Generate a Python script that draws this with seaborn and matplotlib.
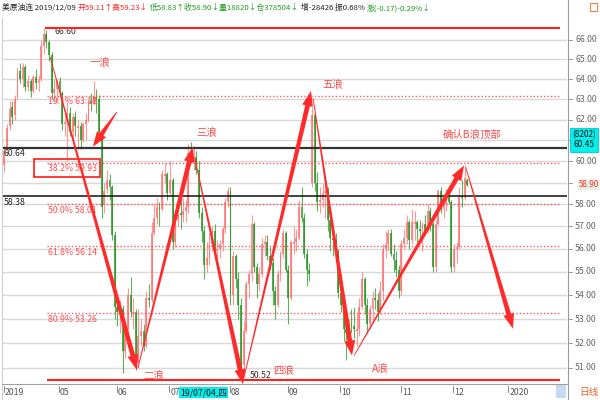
import numpy as np
import pandas as pd
import matplotlib
matplotlib.use("Agg")
import matplotlib.pyplot as plt
import seaborn as sns
from matplotlib.patches import Polygon, Rectangle
from matplotlib.transforms import IdentityTransform
from matplotlib.lines import Line2D

# ---------------- data ----------------
holidays = ['2019-04-19', '2019-05-27', '2019-09-02', '2019-11-28']
dates = pd.bdate_range('2019-04-01', '2019-12-09')
dates = dates[~dates.isin(pd.to_datetime(holidays))]

opens = [59.8, 60.6, 61.7, 62.6, 62.2, 63.1, 64.4, 64.0, 64.6, 63.6,
         63.9, 63.4, 64.1, 63.8, 64.0, 65.7, 66.3, 65.9, 65.2, 63.3,
         63.5, 63.9, 63.3, 61.8, 61.9, 62.3, 61.4, 62.1, 61.6, 61.7,
         61.0, 61.8, 62.0, 62.9, 62.8, 63.1, 63.0, 61.2, 58.0, 58.7,
         59.1, 58.8, 56.6, 53.5, 53.3, 53.4, 51.7, 52.6, 54.0, 53.2,
         53.3, 51.2, 52.3, 52.5, 51.9, 53.9, 53.8, 56.7, 57.4, 57.9,
         57.8, 59.3, 59.4, 58.5, 59.1, 56.3, 57.3, 57.6, 57.5, 57.7,
         57.9, 60.4, 60.1, 60.2, 59.6, 57.6, 56.8, 55.3, 55.6, 56.2,
         56.8, 55.9, 56.0, 56.2, 56.9, 58.1, 58.6, 54.0, 55.7, 54.7,
         53.6, 51.1, 52.5, 54.5, 54.9, 57.1, 55.2, 54.5, 54.9, 56.2,
         56.3, 55.7, 55.4, 54.2, 53.6, 54.9, 55.8, 56.7, 55.1, 53.9,
         56.2, 56.3, 56.5, 57.9, 57.4, 55.8, 55.1, 59.0, 62.2, 59.0,
         58.1, 58.2, 58.5, 58.6, 57.3, 56.5, 56.4, 55.9, 54.1, 53.6,
         52.6, 52.4, 52.8, 52.7, 52.5, 52.6, 53.5, 54.7, 53.6, 52.8,
         53.4, 53.9, 53.8, 53.3, 54.2, 56.0, 56.2, 56.7, 55.8, 55.5,
         55.1, 54.2, 56.2, 56.5, 57.2, 56.4, 57.1, 57.2, 56.9, 56.8,
         57.1, 56.8, 57.7, 57.1, 55.2, 57.1, 58.6, 57.8, 58.0, 58.4,
         58.1, 55.2, 56.0, 56.1, 58.4, 58.3, 59.11]
highs = [60.7, 61.8, 62.9, 62.9, 63.2, 64.6, 64.8, 64.8, 64.7, 64.2,
         64.0, 64.2, 64.5, 64.2, 66.0, 66.6, 66.5, 66.0, 65.4, 64.0,
         64.0, 64.1, 63.4, 62.3, 62.8, 62.6, 62.3, 62.4, 62.0, 61.9,
         61.9, 62.3, 63.0, 63.3, 63.9, 63.5, 63.2, 61.5, 59.0, 59.6,
         59.4, 58.9, 56.8, 54.0, 53.8, 53.6, 52.8, 54.3, 54.8, 53.9,
         53.4, 53.4, 53.0, 52.8, 54.2, 54.5, 57.2, 58.0, 58.3, 58.1,
         59.6, 59.9, 59.5, 60.0, 59.2, 57.6, 57.6, 58.3, 58.3, 58.2,
         60.8, 60.9, 60.7, 60.5, 60.0, 57.9, 57.0, 56.3, 56.7, 57.0,
         57.1, 56.4, 56.4, 57.0, 58.3, 58.8, 58.8, 55.9, 55.8, 55.0,
         53.9, 52.9, 54.6, 55.1, 57.5, 57.2, 55.4, 55.2, 56.5, 56.6,
         56.6, 56.1, 55.6, 54.4, 55.1, 55.9, 56.9, 56.8, 55.3, 56.4,
         57.0, 56.9, 58.2, 58.8, 57.6, 56.0, 55.4, 62.6, 62.3, 59.5,
         58.8, 59.0, 59.0, 58.8, 57.5, 56.9, 56.7, 56.0, 54.9, 53.8,
         52.9, 53.0, 53.4, 53.5, 53.2, 53.9, 55.0, 54.8, 53.9, 53.6,
         54.2, 54.3, 54.1, 54.6, 56.2, 56.8, 56.9, 56.9, 56.2, 55.9,
         55.3, 56.4, 56.9, 57.5, 57.3, 57.8, 57.7, 57.3, 57.3, 57.2,
         57.5, 58.0, 57.9, 57.2, 57.3, 58.7, 58.8, 58.4, 58.7, 58.8,
         58.2, 56.2, 56.3, 58.8, 59.1, 59.8, 59.23]
lows = [59.5, 60.5, 61.5, 61.8, 62.0, 63.0, 63.8, 63.6, 63.4, 63.4,
        63.1, 63.3, 63.5, 63.4, 63.9, 65.3, 65.6, 64.9, 63.0, 62.9,
        62.8, 63.1, 61.5, 61.2, 60.0, 61.2, 61.0, 61.2, 60.6, 60.6,
        60.9, 61.0, 61.9, 62.4, 62.7, 62.3, 61.1, 57.4, 57.6, 58.5,
        58.2, 56.4, 53.0, 52.7, 52.4, 50.8, 51.4, 52.5, 53.1, 52.6,
        50.9, 51.0, 51.9, 51.7, 51.8, 53.5, 53.7, 56.6, 57.1, 57.0,
        57.7, 59.0, 58.2, 58.4, 56.0, 56.1, 57.0, 56.9, 57.2, 57.2,
        57.6, 59.9, 59.6, 59.4, 57.4, 56.3, 54.7, 55.0, 55.3, 55.9,
        55.6, 55.5, 55.6, 55.9, 56.7, 57.9, 53.6, 53.6, 54.3, 53.0,
        50.52, 50.8, 52.4, 53.9, 54.6, 55.0, 53.9, 54.2, 54.8, 55.7,
        55.5, 55.1, 53.6, 53.0, 53.5, 54.6, 55.6, 55.0, 52.8, 53.8,
        55.8, 55.9, 56.4, 57.2, 55.6, 54.4, 54.6, 58.8, 58.6, 57.7,
        57.6, 57.9, 57.4, 56.8, 55.9, 55.7, 55.5, 53.9, 53.3, 52.1,
        51.3, 52.0, 52.4, 52.2, 51.9, 52.3, 53.4, 53.2, 52.4, 52.6,
        53.0, 53.4, 52.9, 53.2, 53.8, 55.6, 55.9, 55.7, 55.0, 54.8,
        53.9, 54.0, 56.0, 56.2, 56.0, 56.2, 56.4, 56.3, 56.5, 55.9,
        56.6, 56.7, 56.8, 55.0, 55.0, 57.0, 57.6, 57.4, 57.7, 58.0,
        55.0, 55.0, 55.4, 56.0, 57.9, 58.2, 58.83]
closes = [60.5, 61.6, 62.5, 62.1, 63.0, 64.4, 64.0, 64.6, 63.6, 63.9,
          63.4, 64.1, 63.8, 64.0, 65.7, 66.3, 65.9, 65.2, 63.3, 63.5,
          63.9, 63.3, 61.8, 61.9, 62.3, 61.4, 62.1, 61.7, 61.7, 61.0,
          61.8, 62.0, 62.9, 62.8, 63.1, 63.0, 61.4, 57.9, 58.6, 59.1,
          58.8, 56.6, 53.5, 53.3, 53.5, 51.7, 52.6, 54.0, 53.3, 53.3,
          51.1, 52.3, 52.5, 51.9, 53.9, 53.8, 56.7, 57.4, 57.9, 57.8,
          59.4, 59.4, 58.5, 59.1, 56.3, 57.3, 57.5, 57.5, 57.7, 57.9,
          60.4, 60.2, 60.2, 59.6, 57.6, 56.8, 55.3, 55.6, 56.2, 56.8,
          55.9, 56.0, 56.2, 56.9, 58.1, 58.6, 54.0, 55.7, 54.7, 53.6,
          51.1, 52.5, 54.5, 54.9, 57.1, 55.2, 54.5, 54.9, 56.2, 56.3,
          55.7, 55.4, 54.2, 53.6, 54.9, 55.8, 56.7, 55.1, 53.9, 56.3,
          56.3, 56.5, 57.9, 57.4, 55.8, 55.1, 54.9, 62.2, 59.0, 58.1,
          58.2, 58.5, 58.6, 57.3, 56.5, 56.4, 55.9, 54.1, 53.6, 52.6,
          52.4, 52.8, 52.7, 52.6, 52.6, 53.5, 54.7, 53.6, 52.8, 53.4,
          53.9, 53.8, 53.3, 54.2, 56.0, 56.2, 56.7, 55.8, 55.5, 55.1,
          54.2, 56.2, 56.5, 57.2, 56.4, 57.2, 57.2, 56.9, 56.8, 57.1,
          56.8, 57.7, 57.1, 55.2, 57.1, 58.6, 57.8, 58.0, 58.4, 58.1,
          55.2, 56.0, 56.1, 58.4, 58.3, 59.2, 58.90]

grid_prices = [51, 52, 53, 54, 55, 56, 57, 58, 59, 60, 61, 62, 63, 64, 65, 66]
label_prices = [51, 52, 53, 54, 55, 56, 57, 58, 60, 62, 63, 64, 65, 66]
month_labels = ['2019', '05', '06', '07', '08', '09', '10', '11', '12', '2020']

wave_high, wave_low = 66.60, 50.52
fib_ratios = [0.191, 0.382, 0.500, 0.618, 0.809]
fib_levels = [63.18, 59.93, 58.01, 56.14, 53.26]
black_levels = [60.64, 58.38]
last_price = 58.90

# wave arrows: (start idx, start price, end idx, end price)
arrow_x0 = [42.8, 17.4, 50.8, 72.5, 91.1, 117.4, 133.0, 175.5]
arrow_p0 = [62.37, 65.13, 51.0, 60.13, 50.6, 63.05, 51.5, 59.7]
arrow_x1 = [33.7, 50.4, 71.7, 90.8, 116.6, 132.2, 174.8, 193.4]
arrow_p1 = [60.69, 50.92, 60.67, 50.35, 63.4, 51.5, 59.8, 52.6]

wave_names = ['一浪', '二浪', '三浪', '四浪', '五浪', 'A浪', '确认B浪顶部']
wave_name_px = [(90, 62), (143, 375), (196, 132), (273, 370), (322, 84), (372, 368), (443, 135)]

# ---------------- style ----------------
sns.set_theme(style="white")
plt.rcParams['font.family'] = ['Noto Sans CJK SC', 'DejaVu Sans']
plt.rcParams['axes.unicode_minus'] = False

W, H = 600, 400
fig = plt.figure(figsize=(6, 4), dpi=100)
fig.patch.set_facecolor('white')

ax_left, ax_right, ax_top, ax_bot = 2, 567, 18, 384
ax = fig.add_axes([ax_left / W, 1 - ax_bot / H, (ax_right - ax_left) / W, (ax_bot - ax_top) / H])
ax.set_facecolor('white')
for s in ax.spines.values():
    s.set_visible(False)
ax.set_yscale('log')
ax.set_xlim(-0.88, 213.95)
ax.set_ylim(50.36, 67.15)
ax.set_xticks([])
ax.set_yticks([])
ax.yaxis.set_minor_locator(matplotlib.ticker.NullLocator())

def fx(x):
    return x / W

def fy(y):
    return 1 - y / H

# grid lines
for p in grid_prices:
    ax.axhline(p, color='#d9d9d9', lw=1.0, zorder=0)

# candles
idx = np.arange(len(dates))
o = np.array(opens); h = np.array(highs); l = np.array(lows); c = np.array(closes)
up = c >= o
up_col = '#ff7474'
dn_col = '#2a962a'
cols = np.where(up, up_col, dn_col)
ax.vlines(idx, l, h, colors=cols, lw=0.8, alpha=0.75, zorder=2)
bottoms = np.minimum(o, c)
heights = np.maximum(np.abs(c - o), 0.04)
ax.bar(idx, heights, bottom=bottoms, width=0.72, color=cols, alpha=0.8, linewidth=0, zorder=3)

# black support lines
ax.axhline(black_levels[0], color='#333333', lw=1.6, zorder=4)
ax.axhline(black_levels[1], color='#111111', lw=1.1, zorder=4)
for lv in black_levels:
    ax.annotate(f'{lv:.2f}', xy=(0, lv), xycoords=('axes fraction', 'data'),
                xytext=(1, -4.5), textcoords='offset points', fontsize=6.3, color='#222222', va='center')

# red extreme lines
ax.hlines([wave_high, wave_low], [15.5, 16.2], 211.3, colors='#ff2020', lw=1.5, zorder=4)
ax.annotate(f'{wave_high:.2f}', xy=(15.5, wave_high), xytext=(7, -2), textcoords='offset points',
            fontsize=6.3, color='#333333', va='center')
ax.annotate(f'{wave_low:.2f}', xy=(90, wave_low), xytext=(6, 3.5), textcoords='offset points',
            fontsize=6.3, color='#333333', va='center')

# fibonacci dotted lines
ax.hlines(fib_levels, 16.2, 211.3, colors='#ff5a5a', lw=1.0, linestyles=(0, (1, 1.5)), zorder=4)
for r, lv in zip(fib_ratios, fib_levels):
    ax.annotate(f'{r*100:.1f}% {lv:.2f}', xy=(16.2, lv), xytext=(0.5, -4.5), textcoords='offset points',
                fontsize=6.3, color='#ff5050', va='center')
# red box around 38.2%
fig.add_artist(Rectangle((fx(34), fy(177)), (100 - 34) / W, (177 - 159) / H, fill=False,
                         ec='#ff2a2a', lw=1.3, transform=fig.transFigure))

# wave labels
for name, (px, py) in zip(wave_names, wave_name_px):
    fig.text(fx(px), fy(py), name, fontsize=7.5, color='#ff4a4a', va='center', ha='left')

# right axis labels
ytr = ax.get_yaxis_transform()
for p in grid_prices:
    ax.plot([1.002, 1.009], [p, p], transform=ytr, color='#999999', lw=0.7, clip_on=False)
for p in label_prices:
    ax.text(1.0145, p, f'{p:.2f}', transform=ytr, fontsize=6.3, color='#666666', va='center', ha='left', clip_on=False)

# last price label
ax.text(1.021, last_price, f'{last_price:.2f}', transform=ytr, fontsize=5.8, color='#ff3030', va='center', ha='left',
        bbox=dict(boxstyle='round,pad=0.1', fc='#e2f2e2', ec='none'), clip_on=False, zorder=6)

# cyan value box
fig.add_artist(Rectangle((fx(570), fy(152)), 28 / W, 24 / H, fc='#00f0f0', ec='#00c8c8', lw=0.6,
                         transform=fig.transFigure, zorder=5))
fig.text(fx(584), fy(140), '(8202)\n60.45', fontsize=6.0, color='#111111', ha='center', va='center',
         linespacing=1.1, zorder=6)

# x axis month ticks
month_starts = [0]
for m in range(1, len(dates)):
    if dates[m].month != dates[m - 1].month:
        month_starts.append(m)
future = pd.bdate_range('2019-12-10', '2020-01-02')
future = future[~future.isin(pd.to_datetime(['2019-12-25', '2020-01-01']))]
month_starts.append(len(dates) + len(future) - 1)
xtr = ax.get_xaxis_transform()
for m, lab in zip(month_starts, month_labels):
    ax.plot([m - 0.3, m - 0.3], [-0.006, -0.022], transform=xtr, color='#888888', lw=0.7, clip_on=False)
    ax.text(m + 0.1, -0.024, lab, transform=xtr, fontsize=6.3, color='#555555', ha='left', va='center', clip_on=False)

# cursor date box
jul4 = int(np.where(dates == pd.Timestamp('2019-07-04'))[0][0])
ax.text(jul4 + 0.9, -0.024, '19/07/04,四', transform=xtr, fontsize=6.3, color='#111111', ha='left', va='center',
        bbox=dict(boxstyle='square,pad=0.12', fc='#00f0f0', ec='none'), clip_on=False, zorder=6)

# frame lines
fig.add_artist(Line2D([fx(568), fx(568)], [fy(0), fy(400)], color='#9a9a9a', lw=0.8, transform=fig.transFigure))
fig.add_artist(Line2D([fx(2), fx(2)], [fy(18), fy(400)], color='#cfcfcf', lw=0.8, transform=fig.transFigure))
fig.add_artist(Line2D([fx(2), fx(568)], [fy(384), fy(384)], color='#a0a0a0', lw=0.8, transform=fig.transFigure))
fig.add_artist(Rectangle((fx(556), fy(398)), 10 / W, 13 / H, fc='#c6daf2', ec='none', transform=fig.transFigure))
fig.text(fx(579), fy(392), '日线', fontsize=7, color='#e8622c', ha='left', va='center')
fig.add_artist(Rectangle((fx(590), fy(11)), 7 / W, 8 / H, fill=False, ec='#f08040', lw=0.8, transform=fig.transFigure))

# header with coloured pieces
pieces = [('美原油连 2019/12/09', '#222222'), ('开59.11↑高59.23↓', '#ff2020'),
          ('低58.83↑收58.90↓量18820↓仓378504↓', '#1d9a1d'), ('增-28426 振0.68%', '#222222'),
          ('涨(-0.17)-0.29%↓', '#1d9a1d')]
renderer = fig.canvas.get_renderer()
xpos = 2.0
for s, col in pieces:
    t = fig.text(fx(xpos), fy(8), s, fontsize=5.6, color=col, ha='left', va='center')
    bb = t.get_window_extent(renderer)
    xpos = bb.x1 + 2

# tapered wave arrows in pixel space
def tapered_arrow(p0, p1, w0=0.8, w1=4.8, head_w=11.0, head_l=15.0, color='#ff2a2a'):
    d0 = ax.transData.transform(p0)
    d1 = ax.transData.transform(p1)
    v = d1 - d0
    L = np.hypot(*v)
    u = v / L
    n = np.array([-u[1], u[0]])
    base = d1 - u * head_l
    pts = [d0 + n * w0 / 2, base + n * w1 / 2, base + n * head_w / 2, d1,
           base - n * head_w / 2, base - n * w1 / 2, d0 - n * w0 / 2]
    fig.add_artist(Polygon(pts, closed=True, fc=color, ec='none', transform=IdentityTransform(), zorder=7))

for a, b, cc, d in zip(arrow_x0, arrow_p0, arrow_x1, arrow_p1):
    tapered_arrow((a, b), (cc, d))

fig.savefig('out.png', dpi=100, facecolor='white')
